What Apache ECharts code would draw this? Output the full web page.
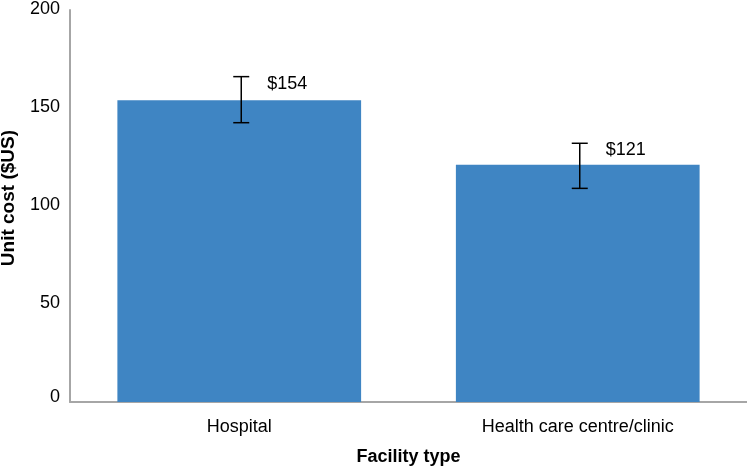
<!DOCTYPE html>
<html>
<head>
<meta charset="utf-8">
<script src="https://cdn.jsdelivr.net/npm/echarts@6/dist/echarts.min.js"></script>
<style>html,body{margin:0;padding:0;background:#fff}#c{width:747px;height:474px}</style>
</head>
<body>
<div id="c"></div>
<script>
var categories = ['Hospital', 'Health care centre/clinic'];
var unitCost = [154, 121];
var errorLow = [142.5, 109];
var errorHigh = [166, 132];
var valueLabels = ['$154', '$121'];
var yTicks = [0, 50, 100, 150, 200];

var chart = echarts.init(document.getElementById('c'));
var font = '"Liberation Sans", Arial, sans-serif';
chart.setOption({
  animation: false,
  grid: { left: 70, right: 0, top: 8, bottom: 72 },
  xAxis: {
    type: 'category',
    data: categories,
    name: 'Facility type',
    nameLocation: 'middle',
    nameGap: 46,
    nameTextStyle: { fontFamily: font, fontSize: 18, fontWeight: 'bold', color: '#000' },
    axisLine: { lineStyle: { color: '#A6A6A6', width: 2 } },
    axisTick: { show: false },
    axisLabel: { fontFamily: font, fontSize: 18, color: '#000', margin: 16 }
  },
  yAxis: {
    type: 'value',
    min: yTicks[0],
    max: yTicks[yTicks.length - 1],
    interval: 50,
    axisLine: { show: true, lineStyle: { color: '#A6A6A6', width: 2 } },
    axisTick: { show: false },
    splitLine: { show: false },
    axisLabel: {
      fontFamily: font, fontSize: 18, color: '#000', margin: 10,
      formatter: function (v) { return v === 0 ? '{z|0}' : '{n|' + v + '}'; },
      rich: {
        z: { fontFamily: font, fontSize: 18, color: '#000', padding: [0, 0, 10, 0] },
        n: { fontFamily: font, fontSize: 18, color: '#000', padding: [0, 0, 2, 0] }
      }
    }
  },
  graphic: [{
    type: 'text',
    left: -1,
    top: 130,
    rotation: Math.PI / 2,
    style: { text: 'Unit cost ($US)', font: 'bold 19px ' + font, fill: '#000' }
  }],
  series: [{
    type: 'bar',
    data: unitCost,
    barCategoryGap: '28%',
    itemStyle: { color: '#3F85C3' }
  }, {
    type: 'custom',
    data: categories.map(function (c, i) { return [i, errorLow[i], errorHigh[i]]; }),
    renderItem: function (params, api) {
      var lo = api.coord([api.value(0), api.value(1)]);
      var hi = api.coord([api.value(0), api.value(2)]);
      var x = lo[0] + 2;
      var hw = 8;
      var st = { stroke: '#000', lineWidth: 1.5 };
      return {
        type: 'group',
        children: [
          { type: 'line', shape: { x1: x, y1: hi[1], x2: x, y2: lo[1] }, style: st },
          { type: 'line', shape: { x1: x - hw, y1: hi[1], x2: x + hw, y2: hi[1] }, style: st },
          { type: 'line', shape: { x1: x - hw, y1: lo[1], x2: x + hw, y2: lo[1] }, style: st },
          { type: 'text', style: { text: valueLabels[params.dataIndex], x: x + 26, y: hi[1] + 7, textVerticalAlign: 'middle', font: '18px ' + font, fill: '#000' } }
        ]
      };
    },
    z: 10
  }]
});
</script>
</body>
</html>
